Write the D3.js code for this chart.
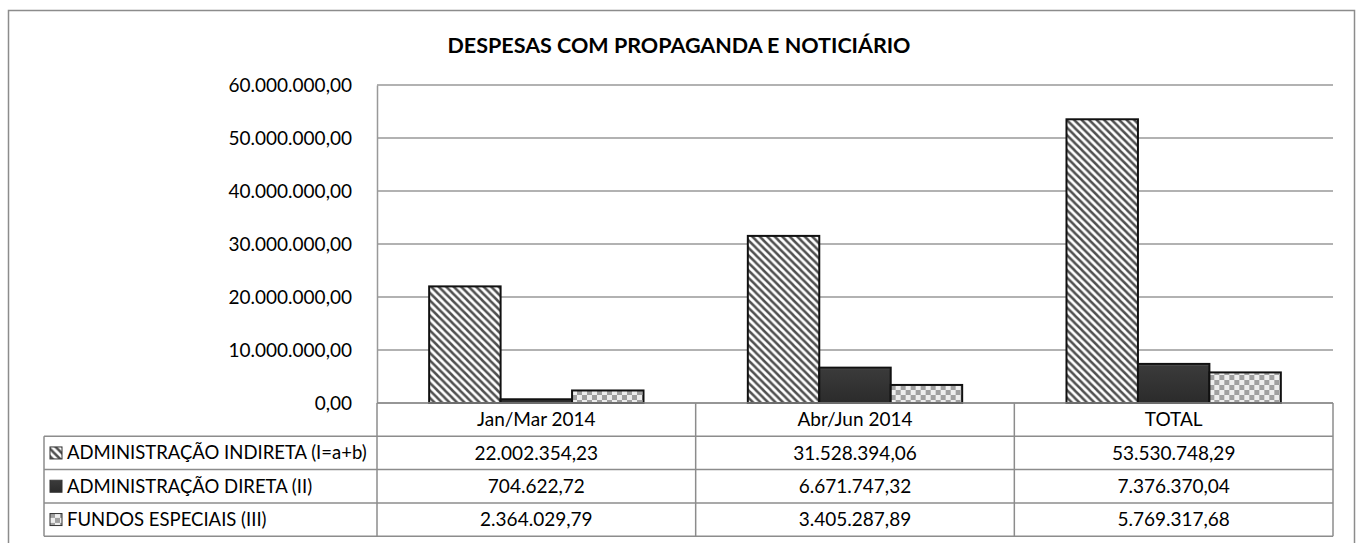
<!DOCTYPE html>
<html>
<head>
<meta charset="utf-8">
<script src="https://cdn.jsdelivr.net/npm/d3@7"></script>
<style>
  body { margin: 0; background: #fff; }
  svg { display: block; font-family: Lato, "Open Sans", sans-serif; }
</style>
</head>
<body>
<div id="chart"></div>
<script>
const title = "DESPESAS COM PROPAGANDA E NOTICIÁRIO";
const categories = ["Jan/Mar 2014", "Abr/Jun 2014", "TOTAL"];
const seriesNames = [
  "ADMINISTRAÇÃO INDIRETA (I=a+b)",
  "ADMINISTRAÇÃO DIRETA (II)",
  "FUNDOS ESPECIAIS (III)"
];
const indireta = [22002354.23, 31528394.06, 53530748.29];
const direta = [704622.72, 6671747.32, 7376370.04];
const fundos = [2364029.79, 3405287.89, 5769317.68];
const yTicks = [0, 10000000, 20000000, 30000000, 40000000, 50000000, 60000000];

const series = [indireta, direta, fundos];
const fills = ["url(#hatch)", "url(#dark)", "url(#checks)"];

const W = 1357, H = 543;
const plot = { left: 377, right: 1333, top: 85, bottom: 403 };
const rowH = 33.3;
const tableLeft = 44;
const fs = 19;

// pt-BR number format
const fmt = d3.formatLocale({ decimal: ",", thousands: ".", grouping: [3], currency: ["R$", ""] }).format(",.2f");

let svg = d3.select("#chart").append("svg").attr("width", W).attr("height", H);

const defs = svg.append("defs");
const hatch = defs.append("pattern")
  .attr("id", "hatch").attr("patternUnits", "userSpaceOnUse")
  .attr("width", 7.5).attr("height", 7.5);
hatch.append("rect").attr("width", 7.5).attr("height", 7.5).attr("fill", "#fff");
hatch.append("path")
  .attr("d", "M-2,-2 L9.5,9.5 M-2,5.5 L2,9.5 M5.5,-2 L9.5,2")
  .attr("stroke", "#505050").attr("stroke-width", 2.5);

const checks = defs.append("pattern")
  .attr("id", "checks").attr("patternUnits", "userSpaceOnUse")
  .attr("width", 10).attr("height", 10);
checks.append("rect").attr("width", 10).attr("height", 10).attr("fill", "#eee");
checks.append("rect").attr("width", 5).attr("height", 5).attr("fill", "#a0a0a0");
checks.append("rect").attr("x", 5).attr("y", 5).attr("width", 5).attr("height", 5).attr("fill", "#a0a0a0");

const dark = defs.append("linearGradient").attr("id", "dark")
  .attr("x1", 0).attr("y1", 0).attr("x2", 0).attr("y2", 1);
dark.append("stop").attr("offset", "0%").attr("stop-color", "#6a6a6a");
dark.append("stop").attr("offset", "6%").attr("stop-color", "#3a3a3a");
dark.append("stop").attr("offset", "100%").attr("stop-color", "#2b2b2b");

// outer frame
svg.append("rect")
  .attr("x", 8.5).attr("y", 10.5).attr("width", 1346).attr("height", 560)
  .attr("fill", "none").attr("stroke", "#8c8c8c").attr("stroke-width", 1.5);

svg.append("text")
  .attr("x", 679).attr("y", 53)
  .attr("text-anchor", "middle")
  .attr("font-weight", "bold").attr("font-size", 21.5)
  .attr("fill", "#000")
  .text(title);

const x0 = d3.scaleBand().domain(categories).range([plot.left, plot.right]).paddingInner(0).paddingOuter(0);
const x1 = d3.scaleBand().domain(d3.range(series.length))
  .range([0, x0.bandwidth()]).paddingInner(0).paddingOuter(0.73);
const y = d3.scaleLinear().domain([0, 60000000]).range([plot.bottom, plot.top]);

const g = svg.append("g");

// gridlines
g.append("g").attr("class", "grid")
  .selectAll("line").data(yTicks).join("line")
  .attr("x1", plot.left).attr("x2", plot.right)
  .attr("y1", d => y(d)).attr("y2", d => y(d))
  .attr("stroke", "#999").attr("stroke-width", 1.5);

// y axis
g.append("g").attr("class", "y-axis")
  .attr("transform", "translate(" + plot.left + ",0)")
  .call(d3.axisLeft(y).tickValues(yTicks).tickFormat(fmt).tickSize(0).tickPadding(25))
  .call(a => a.select(".domain").attr("stroke", "#999").attr("stroke-width", 1.5))
  .call(a => a.selectAll("text").attr("font-size", fs).attr("fill", "#000")
    .attr("font-family", "Lato, sans-serif"));

// bars
const groups = g.append("g").selectAll("g").data(categories).join("g")
  .attr("transform", d => "translate(" + x0(d) + ",0)");
groups.selectAll("rect")
  .data((c, ci) => series.map((s, si) => ({ si, v: s[ci] })))
  .join("rect")
  .attr("x", d => x1(d.si))
  .attr("width", x1.bandwidth())
  .attr("y", d => y(d.v))
  .attr("height", d => y(0) - y(d.v))
  .attr("fill", d => fills[d.si])
  .attr("stroke", "#111").attr("stroke-width", 2);

// data table
const tbl = svg.append("g").attr("class", "table");
const lineColor = "#8c8c8c";
const tblBottom = plot.bottom + rowH * 4;

// horizontal lines
tbl.append("line").attr("x1", plot.left).attr("x2", plot.right)
  .attr("y1", plot.bottom).attr("y2", plot.bottom)
  .attr("stroke", lineColor).attr("stroke-width", 1.5);
tbl.selectAll("line.h").data(d3.range(1, 5)).join("line").attr("class", "h")
  .attr("x1", tableLeft).attr("x2", plot.right)
  .attr("y1", i => plot.bottom + rowH * i).attr("y2", i => plot.bottom + rowH * i)
  .attr("stroke", lineColor).attr("stroke-width", 1.5);
// vertical lines
tbl.selectAll("line.v").data(categories.concat(["end"])).join("line").attr("class", "v")
  .attr("x1", (d, i) => plot.left + x0.bandwidth() * i)
  .attr("x2", (d, i) => plot.left + x0.bandwidth() * i)
  .attr("y1", plot.bottom).attr("y2", tblBottom)
  .attr("stroke", lineColor).attr("stroke-width", 1.5);
tbl.append("line").attr("x1", tableLeft).attr("x2", tableLeft)
  .attr("y1", plot.bottom + rowH).attr("y2", tblBottom)
  .attr("stroke", lineColor).attr("stroke-width", 1.5);

// header labels
tbl.selectAll("text.cat").data(categories).join("text").attr("class", "cat")
  .attr("x", d => x0(d) + x0.bandwidth() / 2)
  .attr("y", plot.bottom + rowH / 2)
  .attr("dy", "0.35em").attr("text-anchor", "middle")
  .attr("font-size", fs).text(d => d);

// rows
const rows = tbl.selectAll("g.row").data(series).join("g").attr("class", "row")
  .attr("transform", (d, i) => "translate(0," + (plot.bottom + rowH * (i + 1)) + ")");
rows.append("rect")
  .attr("x", 50).attr("y", rowH / 2 - 6).attr("width", 12).attr("height", 12)
  .attr("fill", (d, i) => fills[i]).attr("stroke", "#333").attr("stroke-width", 1);
rows.append("text")
  .attr("x", 67).attr("y", rowH / 2).attr("dy", "0.35em")
  .attr("font-size", 18.5).text((d, i) => seriesNames[i]);
rows.selectAll("text.val").data(d => d).join("text").attr("class", "val")
  .attr("x", (d, i) => x0(categories[i]) + x0.bandwidth() / 2)
  .attr("y", rowH / 2).attr("dy", "0.35em").attr("text-anchor", "middle")
  .attr("font-size", fs).text(d => fmt(d));
</script>
</body>
</html>
